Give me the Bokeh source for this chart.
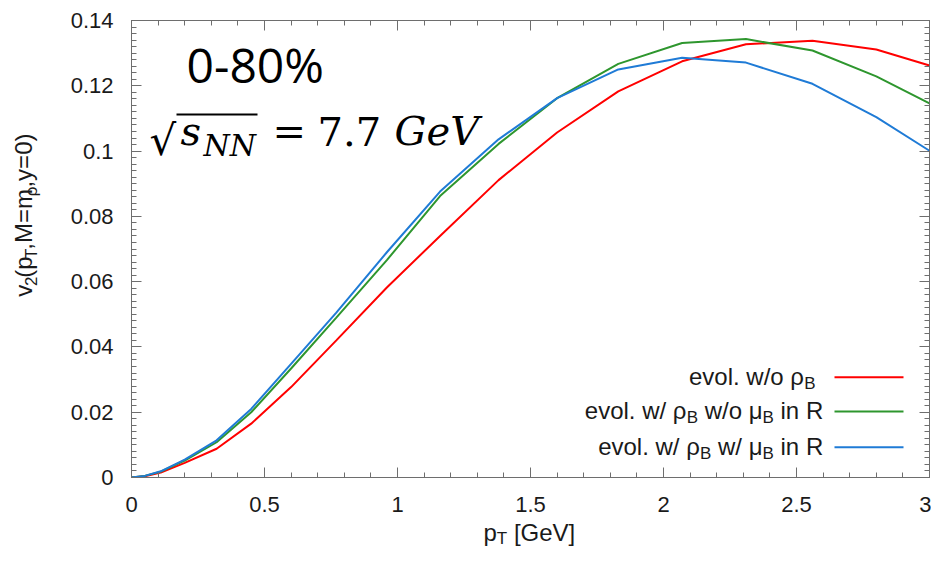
import numpy as np
from bokeh.plotting import figure
from bokeh.layouts import row, column
from bokeh.models import Label, Arrow, LinearAxis, FixedTicker, Range1d
from bokeh.embed import file_html
from bokeh.resources import INLINE

# ---------------- data ----------------
pt = [0, 0.05, 0.11, 0.2, 0.32, 0.45, 0.6, 0.77, 0.96, 1.16, 1.38, 1.6,
      1.83, 2.07, 2.31, 2.56, 2.8, 3.0]
v2_no_rhoB = [0, 0.0004, 0.0015, 0.0045, 0.0088, 0.0165, 0.0277, 0.042,
              0.0582, 0.0740, 0.0911, 0.1057, 0.1183, 0.1275, 0.1327, 0.1338,
              0.1311, 0.1262]
v2_rhoB_no_muB = [0, 0.0005, 0.0018, 0.0052, 0.0108, 0.0200, 0.0334, 0.0490,
                  0.0666, 0.0862, 0.1022, 0.1162, 0.1267, 0.1331, 0.1343,
                  0.1308, 0.1229, 0.1146]
v2_rhoB_muB = [0, 0.0005, 0.0019, 0.0055, 0.0114, 0.0210, 0.0348, 0.0505,
               0.0690, 0.0876, 0.1036, 0.1162, 0.1250, 0.1286, 0.1271, 0.1206,
               0.1104, 0.1001]

x_ticks = [0, 0.5, 1, 1.5, 2, 2.5, 3]
x_tick_labels = ["0", "0.5", "1", "1.5", "2", "2.5", "3"]
y_ticks = [0, 0.02, 0.04, 0.06, 0.08, 0.1, 0.12, 0.14]
y_tick_labels = ["0", "0.02", "0.04", "0.06", "0.08", "0.1", "0.12", "0.14"]

RED, GREEN, BLUE = "#ff0000", "#2e962e", "#1f7bd6"
AX = "#6e6e6e"
TXT = "#1a1a1a"
SANS = "Liberation Sans"

# ---------------- geometry ----------------
TOTAL_W, TOTAL_H = 931, 548
YL_W = 52            # strip holding the y-axis title
MAIN_H = 518         # main figure height
FL, FT, FR, FB = 131, 20, 929, 477   # frame edges in page pixels
BASE_K = 0.38        # empirical alphabetic-baseline correction (x font size)

p = figure(width=TOTAL_W - YL_W, height=MAIN_H, output_backend="svg",
           toolbar_location=None, x_range=Range1d(0, 3),
           y_range=Range1d(0, 0.14),
           min_border_left=FL - YL_W, min_border_right=TOTAL_W - FR,
           min_border_top=FT, min_border_bottom=MAIN_H - FB)
p.grid.visible = False
p.outline_line_color = AX
p.border_fill_color = "white"

p.line(pt, v2_no_rhoB, line_color=RED, line_width=2)
p.line(pt, v2_rhoB_no_muB, line_color=GREEN, line_width=2)
p.line(pt, v2_rhoB_muB, line_color=BLUE, line_width=2)

x_minor = [round(v, 3) for v in np.arange(0, 3.0001, 0.1)]
y_minor = [round(v, 4) for v in np.arange(0, 0.14001, 0.002)]


def style_axis(ax, ticks, minor, labels, show):
    ax.ticker = FixedTicker(ticks=ticks, minor_ticks=minor)
    ax.axis_line_color = AX
    ax.major_tick_line_color = AX
    ax.minor_tick_line_color = AX
    ax.major_tick_in = 10
    ax.major_tick_out = 0
    ax.minor_tick_in = 5
    ax.minor_tick_out = 0
    ax.axis_label = None
    if show:
        ax.major_label_overrides = dict(zip(ticks, labels))
        ax.major_label_text_font = SANS
        ax.major_label_text_font_size = "22px"
        ax.major_label_text_color = TXT
    else:
        ax.major_label_text_font_size = "0px"
        ax.major_label_text_color = None
        ax.major_label_standoff = 0


style_axis(p.xaxis[0], x_ticks, x_minor, x_tick_labels, True)
style_axis(p.yaxis[0], y_ticks, y_minor, y_tick_labels, True)
p.xaxis[0].major_label_standoff = 19
p.yaxis[0].major_label_standoff = 18

top = LinearAxis()
right = LinearAxis()
style_axis(top, x_ticks, x_minor, x_tick_labels, False)
style_axis(right, y_ticks, y_minor, y_tick_labels, False)
p.add_layout(top, "above")
p.add_layout(right, "right")


def blank_fig(w, h):
    f = figure(width=w, height=h, output_backend="svg", toolbar_location=None,
               x_range=Range1d(0, w), y_range=Range1d(0, h), min_border=0,
               x_axis_location=None, y_axis_location=None)
    f.grid.visible = False
    f.outline_line_color = None
    return f


yl = blank_fig(YL_W, MAIN_H)               # page origin (0, 0)
xl = blank_fig(TOTAL_W, TOTAL_H - MAIN_H)  # page origin (0, MAIN_H)

WID = {' ': 278, 'e': 556, 'v': 500, 'o': 556, 'l': 222, '.': 278, 'w': 722,
       '/': 278, 'ρ': 577, 'μ': 576, 'B': 667, 'i': 222, 'n': 556, 'R': 722,
       '(': 333, ')': 333, 'p': 556, 'T': 611, ',': 278, 'M': 833, '=': 584,
       'm': 833, 'y': 500, '0': 556, '2': 556, '[': 278, ']': 278, 'G': 778,
       'V': 667}


def tw(s, size):
    return sum(WID.get(c, 556) for c in s) / 1000.0 * size


def to_local(fig, px, py):
    """page pixel -> coordinates usable for a Label on the given figure"""
    if fig is p:
        return px - FL, FB - py, "screen"
    if fig is yl:
        return px, MAIN_H - py, "data"
    return px, TOTAL_H - py, "data"


def lab(fig, text, px, py, size, font=SANS, style="normal", angle=0.0,
        color=TXT, baseline="alphabetic"):
    # (px, py): page position of the alphabetic baseline start
    if baseline == "alphabetic":
        if angle:
            px = px - BASE_K * size
        else:
            py = py - BASE_K * size
    x, y, u = to_local(fig, px, py)
    fig.add_layout(Label(x=x, y=y, x_units=u, y_units=u, text=text,
                         text_font=font, text_font_size=f"{size}px",
                         text_font_style=style, text_align="left",
                         text_baseline=baseline, angle=angle,
                         text_color=color))


MAIN, SUB = 24, 17


def hrow(fig, pieces, left_px, base_py):
    x = left_px
    for t, sub in pieces:
        size = SUB if sub else MAIN
        lead = len(t) - len(t.lstrip())
        lab(fig, t.strip(), x + tw(t[:lead], size),
            base_py + (4 if sub else 0), size)
        x += tw(t, size)


def hrow_right(fig, pieces, right_px, base_py):
    total = sum(tw(t, SUB if s else MAIN) for t, s in pieces)
    hrow(fig, pieces, right_px - total, base_py)


def vrow(fig, pieces, start_py, base_px):
    y = start_py
    for t, sub in pieces:
        size = SUB if sub else MAIN
        lab(fig, t, base_px + (4.5 if sub else 0), y, size, angle=np.pi / 2)
        y -= tw(t, size)


# y axis title: v2(pT,M=mρ,y=0)
vrow(yl, [("v", False), ("2", True), ("(p", False), ("T", True),
          (",M=m", False), ("ρ", True), (",y=0)", False)], 313, 32.5)

# x axis title: pT [GeV]  (anchored by the bottom of each text box)
x = 483
for t, sub in [("p", False), ("T", True), (" [GeV]", False)]:
    size = SUB if sub else MAIN
    lead = len(t) - len(t.lstrip())
    lab(xl, t.strip(), x + tw(t[:lead], size), 547.5 if sub else 545.5, size,
        baseline="bottom")
    x += tw(t, size)

# legend
legend_rows = [
    ([("evol. w/o ρ", False), ("B", True)], 815, 376.7, RED),
    ([("evol. w/ ρ", False), ("B", True), (" w/o μ", False), ("B", True),
      (" in R", False)], 822.7, 411, GREEN),
    ([("evol. w/ ρ", False), ("B", True), (" w/ μ", False), ("B", True),
      (" in R", False)], 822.7, 446.7, BLUE),
]
for pieces, rx, ly, col in legend_rows:
    hrow_right(p, pieces, rx, ly + 8.5)
    p.add_layout(Arrow(end=None, x_start=834 - FL, y_start=FB - ly,
                       x_end=903 - FL, y_end=FB - ly, start_units="screen",
                       end_units="screen", line_color=col, line_width=2))

# annotations
lab(p, "0-80%", 186, 82, 48, font="Open Sans", color="black")
lab(p, "√", 149, 156, 42, font="DejaVu Sans", color="black")
p.add_layout(Arrow(end=None, x_start=176 - FL, y_start=FB - 114,
                   x_end=257 - FL, y_end=FB - 114, start_units="screen",
                   end_units="screen", line_color="black", line_width=2))
lab(p, "s", 180, 146, 40, font="DejaVu Serif", style="italic", color="black")
lab(p, "NN", 203, 156, 30, font="DejaVu Serif", style="italic", color="black")
lab(p, "=", 272, 146, 40, font="DejaVu Serif", color="black")
lab(p, "7.7", 317, 146, 40, font="DejaVu Serif", color="black")
lab(p, "GeV", 394, 146, 40, font="DejaVu Serif", style="italic", color="black")

layout = column(row(yl, p), xl)
open("out.html", "w").write(file_html(layout, INLINE))
